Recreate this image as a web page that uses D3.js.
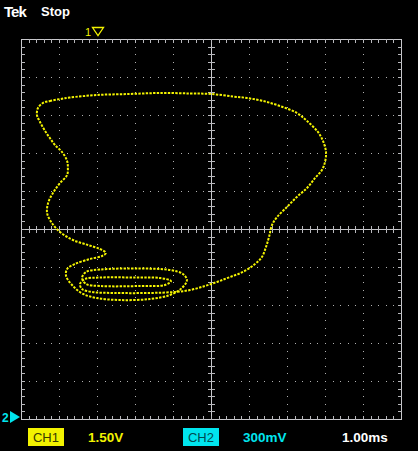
<!DOCTYPE html>
<html>
<head>
<meta charset="utf-8">
<script src="https://cdn.jsdelivr.net/npm/d3@7"></script>
<style>
  body { margin: 0; background: #000; }
  svg { display: block; }
  text { font-family: "Liberation Sans", Arial, sans-serif; }
</style>
</head>
<body>
<svg id="scope" width="418" height="451"></svg>
<script>
// XY mode: CH1 on the horizontal axis, CH2 on the vertical axis (volts)
var ch1Volts = [
  -6.63, -6.36, -5.96, -5.57, -4.50, -3.20, -2.01, -0.83, 0.00, 0.87,
  1.42, 2.05, 2.72, 3.39, 3.79, 4.22, 4.42, 4.54, 4.50, 4.38,
  4.11, 3.79, 3.39, 3.00, 2.61, 2.41, 2.29, 2.17, 2.01, 1.74,
  1.26, 0.75, 0.24, -0.24, -0.83, -1.42, -2.41, -3.79, -4.70, -5.09,
  -5.17, -4.97, -4.38, -3.00, -2.01, -1.58, -1.82, -2.80, -4.38, -4.93,
  -5.09, -4.93, -4.38, -2.80, -1.62, -1.11, -0.95, -1.15, -1.62, -2.41,
  -3.59, -4.50, -5.05, -5.45, -5.72, -5.68, -5.37, -4.78, -4.30, -4.15,
  -4.38, -4.86, -5.45, -5.96, -6.28, -6.47, -6.43, -6.24, -5.96, -5.68,
  -5.65, -5.68, -5.88, -6.16, -6.36, -6.55, -6.75, -6.87, -6.83
];
var ch2Volts = [
  0.995, 1.011, 1.026, 1.038, 1.058, 1.066, 1.074, 1.070, 1.066, 1.046,
  1.034, 1.011, 0.971, 0.916, 0.853, 0.766, 0.695, 0.608, 0.529, 0.466,
  0.403, 0.324, 0.253, 0.174, 0.095, 0.032, -0.063, -0.142, -0.221, -0.276,
  -0.339, -0.379, -0.418, -0.450, -0.482, -0.497, -0.505, -0.505, -0.497, -0.474,
  -0.434, -0.395, -0.383, -0.383, -0.387, -0.411, -0.442, -0.450, -0.450, -0.434,
  -0.387, -0.339, -0.320, -0.312, -0.324, -0.355, -0.403, -0.466, -0.521, -0.553,
  -0.561, -0.545, -0.513, -0.450, -0.371, -0.316, -0.276, -0.237, -0.213, -0.189,
  -0.158, -0.126, -0.087, -0.024, 0.047, 0.126, 0.205, 0.284, 0.363, 0.426,
  0.482, 0.537, 0.608, 0.663, 0.718, 0.774, 0.845, 0.900, 0.955
];

var ch1VoltsPerDiv = 1.5;
var ch2VoltsPerDiv = 0.3;
var divisions = d3.range(-5, 6);          // major graticule lines
var minorSteps = d3.range(-25, 26).map(function(d) { return d / 5; });

var svg = d3.select("#scope");

var x = d3.scaleLinear().domain([-5, 5]).range([21, 401]);
var y = d3.scaleLinear().domain([-5, 5]).range([419, 39]);
var xv = d3.scaleLinear().domain([-5 * ch1VoltsPerDiv, 5 * ch1VoltsPerDiv]).range(x.range());
var yv = d3.scaleLinear().domain([-5 * ch2VoltsPerDiv, 5 * ch2VoltsPerDiv]).range(y.range());

function px(v) { return Math.round(v) + 0.5; }

var grid = svg.append("g").attr("class", "graticule");

// dotted major lines
var inner = divisions.filter(function(d) { return d != 0 && Math.abs(d) != 5; });
inner.forEach(function(d) {
  grid.selectAll(null)
    .data(minorSteps)
    .enter().append("rect")
    .attr("x", Math.round(x(d)))
    .attr("y", function(s) { return Math.round(y(s)); })
    .attr("width", 1).attr("height", 1)
    .attr("fill", "#b0b0b0");
  grid.selectAll(null)
    .data(minorSteps)
    .enter().append("rect")
    .attr("x", function(s) { return Math.round(x(s)); })
    .attr("y", Math.round(y(d)))
    .attr("width", 1).attr("height", 1)
    .attr("fill", "#b0b0b0");
});

// center cross
grid.append("line")
  .attr("x1", px(x(0))).attr("x2", px(x(0)))
  .attr("y1", y(5)).attr("y2", y(-5))
  .attr("stroke", "#c8c8cc");
grid.append("line")
  .attr("x1", x(-5)).attr("x2", x(5))
  .attr("y1", px(y(0))).attr("y2", px(y(0)))
  .attr("stroke", "#c8c8cc");

// ticks on the center cross
grid.selectAll(".ctick-x")
  .data(minorSteps.filter(function(s) { return Math.abs(s) < 5 && s != 0; }))
  .enter().append("line")
  .attr("class", "ctick-x")
  .attr("x1", function(s) { return px(x(s)); })
  .attr("x2", function(s) { return px(x(s)); })
  .attr("y1", Math.round(y(0)) - 3).attr("y2", Math.round(y(0)) + 4)
  .attr("stroke", "#b8b8bc");
grid.selectAll(".ctick-y")
  .data(minorSteps.filter(function(s) { return Math.abs(s) < 5 && s != 0; }))
  .enter().append("line")
  .attr("class", "ctick-y")
  .attr("y1", function(s) { return px(y(s)); })
  .attr("y2", function(s) { return px(y(s)); })
  .attr("x1", Math.round(x(0)) - 3).attr("x2", Math.round(x(0)) + 4)
  .attr("stroke", "#b8b8bc");

// border and its ticks
grid.append("rect")
  .attr("x", px(x(-5))).attr("y", px(y(5)))
  .attr("width", x(5) - x(-5)).attr("height", y(-5) - y(5))
  .attr("fill", "none")
  .attr("stroke", "#c8c8cc");

var edgeTicks = minorSteps.filter(function(s) { return Math.abs(s) < 5; });
grid.selectAll(".btick-top")
  .data(edgeTicks).enter().append("line")
  .attr("x1", function(s) { return px(x(s)); })
  .attr("x2", function(s) { return px(x(s)); })
  .attr("y1", y(5)).attr("y2", y(5) + 4)
  .attr("stroke", "#b8b8bc");
grid.selectAll(".btick-bottom")
  .data(edgeTicks).enter().append("line")
  .attr("x1", function(s) { return px(x(s)); })
  .attr("x2", function(s) { return px(x(s)); })
  .attr("y1", y(-5) - 3).attr("y2", y(-5) + 1)
  .attr("stroke", "#b8b8bc");
grid.selectAll(".btick-left")
  .data(edgeTicks).enter().append("line")
  .attr("y1", function(s) { return px(y(s)); })
  .attr("y2", function(s) { return px(y(s)); })
  .attr("x1", x(-5)).attr("x2", x(-5) + 4)
  .attr("stroke", "#b8b8bc");
grid.selectAll(".btick-right")
  .data(edgeTicks).enter().append("line")
  .attr("y1", function(s) { return px(y(s)); })
  .attr("y2", function(s) { return px(y(s)); })
  .attr("x1", x(5) - 3).attr("x2", x(5) + 1)
  .attr("stroke", "#b8b8bc");

// the XY trace
var trace = d3.line()
  .x(function(d) { return xv(d[0]); })
  .y(function(d) { return yv(d[1]); })
  .curve(d3.curveCatmullRomClosed.alpha(0.5));

svg.append("path")
  .datum(d3.zip(ch1Volts, ch2Volts))
  .attr("d", trace)
  .attr("fill", "none")
  .attr("stroke", "#f5f500")
  .attr("stroke-width", 2)
  .attr("stroke-dasharray", "2.4 1.3");

// header
svg.append("text").attr("x", 4).attr("y", 17)
  .attr("font-size", 15).attr("font-weight", "900")
  .attr("fill", "#fff").style("letter-spacing", "-1px")
  .text("Tek");
svg.append("text").attr("x", 41).attr("y", 16)
  .attr("font-size", 13).attr("font-weight", "bold")
  .attr("fill", "#fff")
  .text("Stop");

// trigger marker "1" at the top
svg.append("text").attr("x", 85).attr("y", 36)
  .attr("font-size", 11).attr("fill", "#f2f200")
  .text("1");
svg.append("path")
  .attr("d", "M92.5,27.5 L103.5,27.5 L98,35.5 Z")
  .attr("fill", "none").attr("stroke", "#f2f200").attr("stroke-width", 1.3);

// ground marker "2" on the left
svg.append("text").attr("x", 2).attr("y", 422)
  .attr("font-size", 12).attr("font-weight", "bold").attr("fill", "#00e5ee")
  .text("2");
svg.append("path")
  .attr("d", "M10,411 L20,417 L10,423 Z")
  .attr("fill", "#00e5ee");

// bottom readout
var readout = svg.append("g");
readout.append("rect").attr("x", 28).attr("y", 428).attr("width", 36).attr("height", 18)
  .attr("fill", "#f2f200");
readout.append("text").attr("x", 46).attr("y", 442).attr("text-anchor", "middle")
  .attr("font-size", 13).attr("fill", "#3a3a00").text("CH1");
readout.append("text").attr("x", 88).attr("y", 442)
  .attr("font-size", 13.5).attr("font-weight", "bold").attr("fill", "#f2f200").text("1.50V");

readout.append("rect").attr("x", 183).attr("y", 428).attr("width", 36).attr("height", 18)
  .attr("fill", "#00e5ee");
readout.append("text").attr("x", 201).attr("y", 442).attr("text-anchor", "middle")
  .attr("font-size", 13).attr("fill", "#004a50").text("CH2");
readout.append("text").attr("x", 243).attr("y", 442)
  .attr("font-size", 13.5).attr("font-weight", "bold").attr("fill", "#00e5ee").text("300mV");

readout.append("text").attr("x", 342).attr("y", 442)
  .attr("font-size", 13.5).attr("font-weight", "bold").attr("fill", "#fff").text("1.00ms");
</script>
</body>
</html>
